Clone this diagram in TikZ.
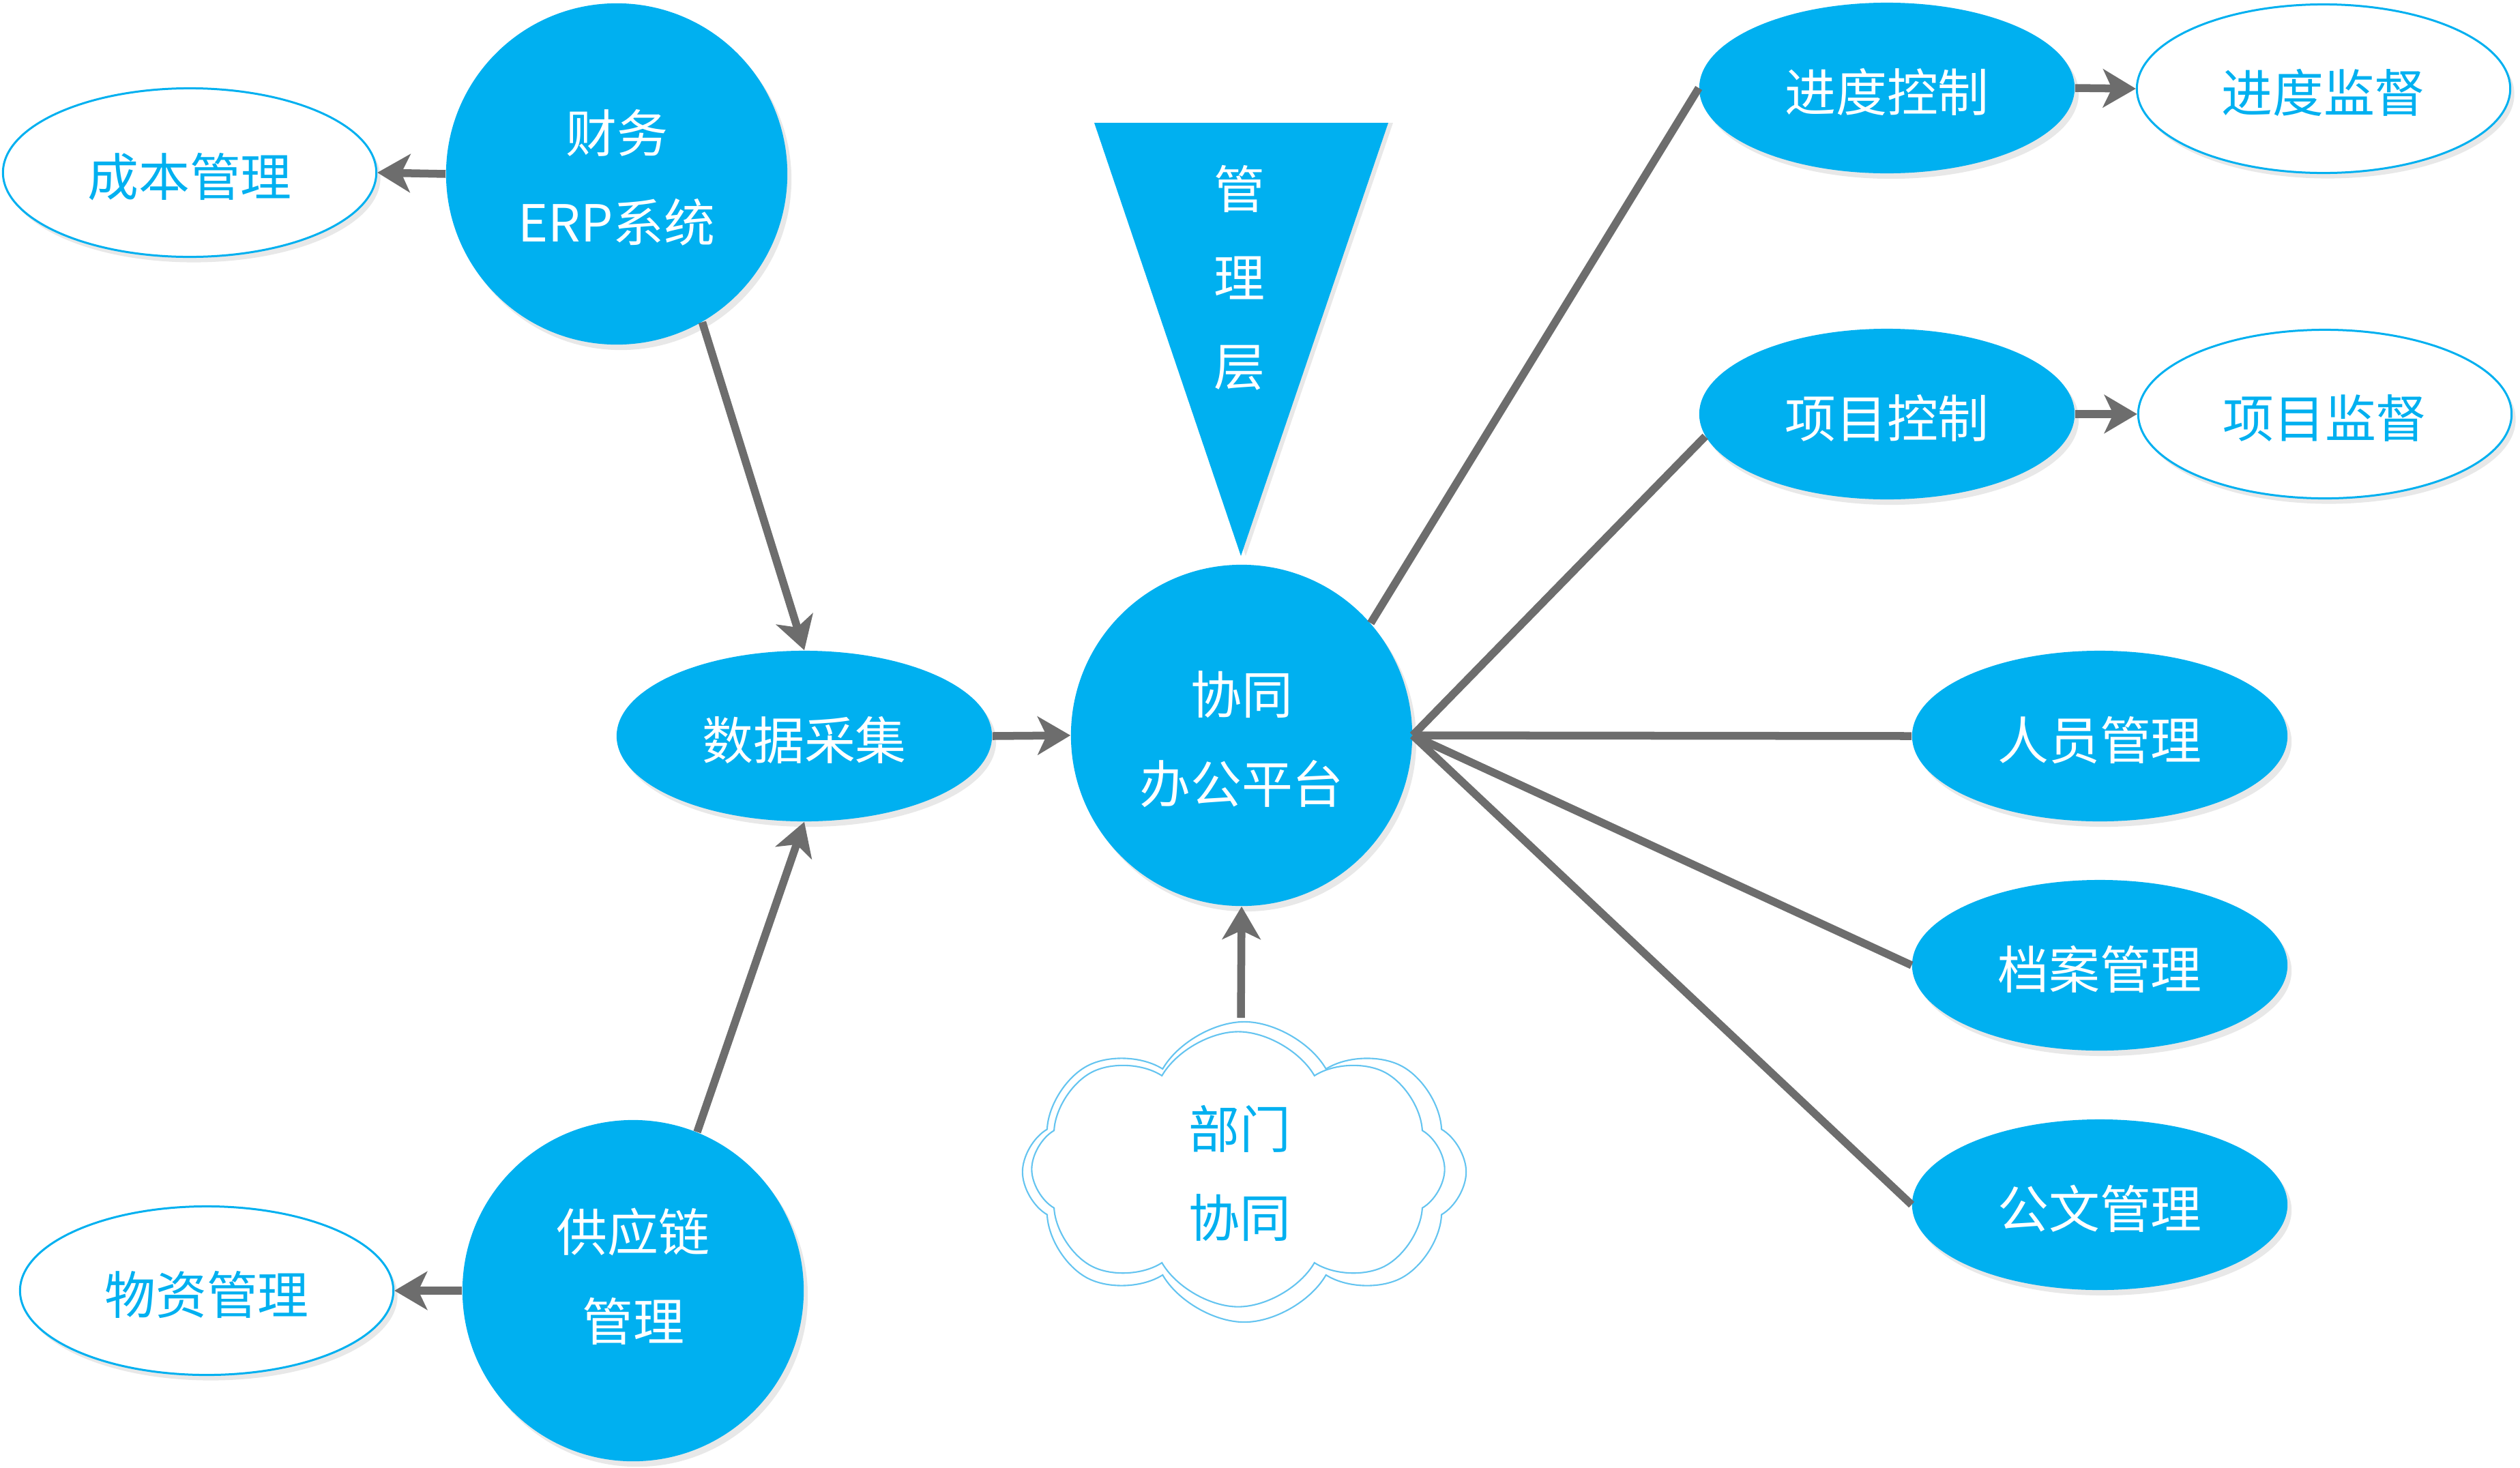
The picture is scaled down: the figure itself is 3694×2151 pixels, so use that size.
\documentclass[tikz,border=0pt]{standalone}
\usepackage{fontspec}
\setmainfont{Noto Sans CJK SC}
\usetikzlibrary{arrows.meta,shapes.geometric,shapes.symbols,shadows}
\definecolor{mblue}{RGB}{0,176,240}
\definecolor{agray}{RGB}{109,109,109}
\definecolor{shgray}{RGB}{232,232,232}
\definecolor{cblue}{RGB}{100,196,240}
\begin{document}
\begin{tikzpicture}[x=0.01cm,y=-0.01cm,
  txt/.style={font=\fontsize{21.3pt}{37pt}\selectfont, align=center},
  oneline/.style={text height=0.69cm, text depth=0cm},
  twoline/.style={text height=1.98cm, text depth=0cm},
  shd/.style={drop shadow={shadow xshift=0.06cm, shadow yshift=-0.08cm, fill=shgray, opacity=1}},
  fcirc/.style={circle, fill=mblue, text=white, minimum size=5cm, inner sep=0pt, txt, twoline, shd},
  fell/.style={ellipse, fill=mblue, text=white, minimum width=5.5cm, minimum height=2.5cm, inner sep=0pt, txt, oneline, shd},
  oell/.style={ellipse, draw=mblue, line width=0.03cm, fill=white, text=mblue, minimum width=5.47cm, minimum height=2.47cm, inner sep=0pt, txt, oneline, shd},
  conn/.style={draw=agray, line width=0.115cm},
  arr/.style={conn, -{Stealth[length=0.48cm,width=0.56cm,inset=0.13cm]}},
  cloudbox/.style={cloud, cloud puffs=8, cloud puff arc=120, cloud ignores aspect, draw=cblue, fill=white, line width=0.6pt, inner sep=0pt}
]
\useasboundingbox (0,0) rectangle (3694,2151);

% left side
\node[fcirc] (cw) at (904,255) {财务\\ERP系统};
\node[oell] (cb) at (278,253) {成本管理};
\node[fell] (sj) at (1179,1079) {数据采集};
\node[fcirc, text height=1.46cm] (gy) at (928,1892) {供应链\\管理};
\node[oell] (wz) at (303,1892) {物资管理};

% center
\node[fcirc] (xt) at (1820,1078) {协同\\办公平台};
\fill[shgray] (1611,180) -- (2042,180) -- (1826,815) -- cycle;
\fill[mblue] (1604,180) -- (2035,180) -- (1819,815) -- cycle;
\node[txt, text=white] (glc) at (1817,407) {管\\理\\层};

\node[cloudbox, minimum width=6.5cm, minimum height=4.4cm] (bmo) at (1824,1718) {};
\node[cloudbox, minimum width=6.05cm, minimum height=4.03cm] (bm) at (1815,1714) {};
\node[txt, text=mblue, text height=1.87cm, text depth=0cm] (bmt) at (1817,1720) {部门\\协同};
\coordinate (bmtop) at (1819,1492);

% right side
\node[fell] (jdc) at (2766,129) {进度控制};
\node[oell] (jds) at (3406,130) {进度监督};
\node[fell] (xmc) at (2766,607) {项目控制};
\node[oell] (xms) at (3408,607) {项目监督};
\node[fell] (ry) at (3078,1079) {人员管理};
\node[fell] (da) at (3078,1415) {档案管理};
\node[fell] (gw) at (3078,1766) {公文管理};

% connectors
\draw[arr] (cw.west) -- (cb.east);
\draw[arr] (cw.-60) -- (sj.north);
\draw[arr] (gy.68) -- (sj.south);
\draw[arr] (gy.west) -- (wz.east);
\draw[arr] (sj.east) -- (xt.west);
\draw[arr] (bmtop) -- (xt.south);
\draw[conn] (xt.41) -- (jdc.west);
\draw[conn] (xt.east) -- (xmc.187);
\draw[conn] (xt.east) -- (ry.west);
\draw[conn] (xt.east) -- (da.west);
\draw[conn] (xt.east) -- (gw.west);
\draw[arr] (jdc.east) -- (jds.west);
\draw[arr] (xmc.east) -- (xms.west);
\end{tikzpicture}
\end{document}
